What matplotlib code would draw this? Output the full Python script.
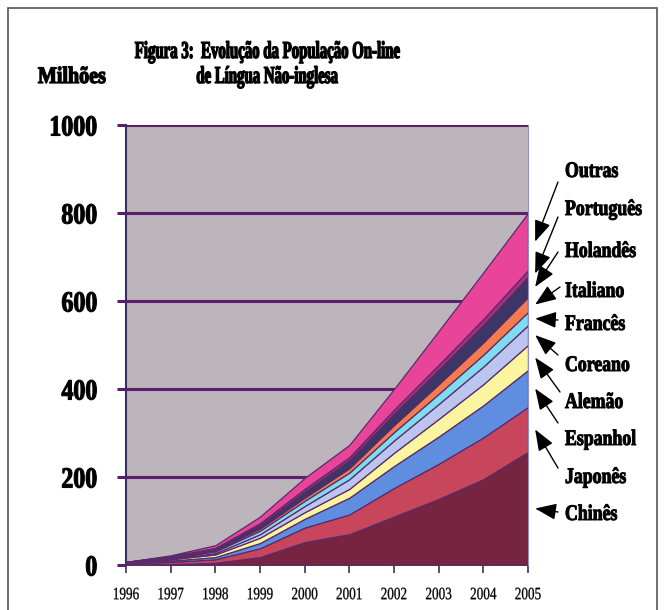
import numpy as np
import matplotlib
matplotlib.use('Agg')
import matplotlib.pyplot as plt
from matplotlib.patches import Rectangle
from matplotlib.patheffects import AbstractPathEffect
from matplotlib.transforms import Affine2D

# non-English online population, millions, stacked from the bottom up
years = [1996, 1997, 1998, 1999, 2000, 2001, 2002, 2003, 2004, 2005]
chines = [1, 2, 5, 18, 52, 70, 110, 150, 195, 257]
japones = [2, 5, 8, 20, 33, 45, 65, 80, 95, 102]
espanhol = [1, 3, 5, 12, 20, 38, 50, 62, 73, 84]
alemao = [1, 3, 6, 12, 15, 20, 30, 40, 48, 57]
coreano = [0, 1, 3, 8, 14, 22, 28, 34, 40, 45]
frances = [1, 2, 4, 8, 12, 15, 19, 23, 27, 30]
italiano = [0, 1, 2, 5, 7, 10, 16, 22, 28, 34]
holandes = [1, 2, 4, 8, 14, 18, 26, 33, 40, 46]
portugues = [0, 1, 2, 4, 6, 7, 9, 11, 13, 15]
outras = [0, 2, 6, 15, 25, 28, 47, 77, 106, 130]

series_names = ['Chinês', 'Japonês', 'Espanhol', 'Alemão', 'Coreano',
                'Francês', 'Italiano', 'Holandês', 'Português', 'Outras']
series = [chines, japones, espanhol, alemao, coreano,
          frances, italiano, holandes, portugues, outras]
colors = ['#76243f', '#c8465c', '#5f8ee0', '#fbf5a0', '#bcc4f0',
          '#7fdcf0', '#f47a50', '#3c3566', '#a8307a', '#e8449a']
y_ticks = [0, 200, 400, 600, 800, 1000]

# label centres and arrow tails, in pixels from the top-left corner
label_y = [515, 478, 440, 403, 366, 325, 292, 252, 210, 172]
tail_xy = [(558, 512), (558, 468), (558, 423), (560, 392), (558, 355),
           (558, 320), (560, 287), (558, 252), (558, 217), (558, 182)]

W, H = 665, 610
PURPLE = '#5c1f6e'


class Squeeze(AbstractPathEffect):
    """Draw text glyphs narrower (and a bit heavier), keeping one edge or the middle fixed."""

    def __init__(self, sx, anchor='center', stroke=0.0):
        super().__init__()
        self.sx = sx
        self.anchor = anchor
        self.stroke = stroke

    def draw_path(self, renderer, gc, tpath, affine, rgbFace=None):
        xs = tpath.vertices[:, 0]
        if len(xs) == 0:
            return
        if self.anchor == 'left':
            x0 = xs.min()
        elif self.anchor == 'right':
            x0 = xs.max()
        else:
            x0 = (xs.min() + xs.max()) / 2
        squeeze = Affine2D().translate(-x0, 0).scale(self.sx, 1).translate(x0, 0)
        gc0 = renderer.new_gc()
        gc0.copy_properties(gc)
        gc0.set_linewidth(self.stroke)
        gc0.set_joinstyle('round')
        renderer.draw_path(gc0, tpath, squeeze + affine, rgbFace)
        gc0.restore()


serif = 'Liberation Serif'

fig = plt.figure(figsize=(W / 100, H / 100), dpi=100)
fig.patch.set_facecolor('white')
ax = fig.add_axes([126 / W, 1 - 565 / H, (528 - 126) / W, (565 - 125) / H])
ax.set_facecolor('#bcb5bb')

ax.stackplot(years, *series, colors=colors, edgecolor='#5a2a6a', linewidth=0.9)

ax.set_xlim(years[0], years[-1])
ax.set_ylim(0, 1000)
ax.set_yticks(y_ticks)
ax.set_xticks(years)
ax.yaxis.grid(True, color=PURPLE, linewidth=2.2)
ax.set_axisbelow(True)

for side in ['top', 'bottom']:
    ax.spines[side].set_visible(False)
ax.spines['left'].set_color('#3a3060')
ax.spines['left'].set_linewidth(1.5)
ax.spines['right'].set_color('#8f8fd0')
ax.spines['right'].set_linewidth(0.8)

ax.tick_params(axis='y', direction='out', length=6.5, width=2.2, color=PURPLE, pad=14)
ax.tick_params(axis='x', direction='out', length=6, width=1.2, color='#3a3060', pad=10)

ax.set_yticklabels([str(v) for v in y_ticks], fontfamily=serif,
                   fontweight='bold', fontsize=21)
ax.set_xticklabels([str(y) for y in years], fontfamily=serif, fontsize=12.5)
for t in ax.get_yticklabels():
    t.set_path_effects([Squeeze(0.82, 'right', stroke=0.8)])
for t in ax.get_xticklabels():
    t.set_path_effects([Squeeze(0.76, 'center', stroke=0.2)])

# title and unit label
for text, base in [('Figura 3:  Evolução da População On-line', 58),
                   ('de Língua Não-inglesa', 83)]:
    fig.text(267 / W, 1 - base / H, text, ha='center', va='baseline',
             fontfamily=serif, fontweight='bold', fontsize=17.5,
             path_effects=[Squeeze(0.61, 'center', stroke=0.9)])
fig.text(72 / W, 1 - 83 / H, 'Milhões', ha='center', va='baseline',
         fontfamily=serif, fontweight='bold', fontsize=17,
         path_effects=[Squeeze(0.85, 'center', stroke=0.9)])

# labels with arrows pointing at the middle of each band in the last year
last = np.array([s[-1] for s in series])
tops = np.cumsum(last)
mids = tops - last / 2
for name, mid, ly, (tx, ty) in zip(series_names, mids, label_y, tail_xy):
    fig.text(565 / W, 1 - ly / H, name, ha='left', va='center',
             fontfamily=serif, fontweight='bold', fontsize=16,
             path_effects=[Squeeze(0.8, 'left', stroke=0.7)])
    ax.annotate('', xy=(years[-1] + 0.16, mid), xycoords='data',
                xytext=(tx, H - ty), textcoords='figure pixels',
                annotation_clip=False,
                arrowprops=dict(arrowstyle='-|>,head_length=1.3,head_width=0.5',
                                color='black', lw=1, shrinkA=0, shrinkB=0,
                                mutation_scale=10))

# frame round the whole chart
fig.patches.append(Rectangle((8 / W, -0.05), (657 - 8) / W, 1 - 8 / H + 0.05,
                             transform=fig.transFigure, fill=False,
                             edgecolor='#555555', linewidth=1.2))

fig.savefig('out.png', dpi=100)
